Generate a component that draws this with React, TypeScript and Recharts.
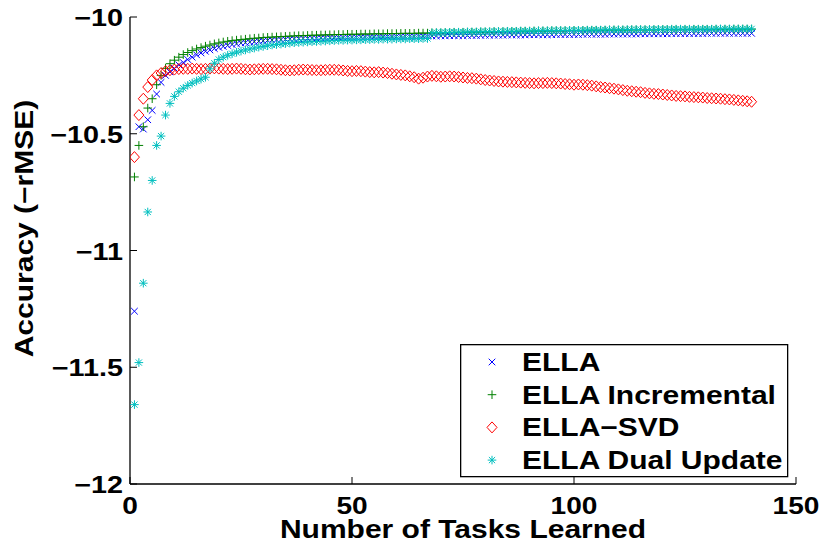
import React from 'react';
import { ScatterChart, Scatter, XAxis, YAxis, Legend } from 'recharts';

const tasks: number[] = Array.from({ length: 140 }, (_, i) => i + 1);

const ellaValues = [
  -11.26, -10.47, -10.48, -10.44, -10.40, -10.33, -10.28, -10.25, -10.235, -10.22,
  -10.205, -10.195, -10.182, -10.172, -10.162, -10.154, -10.147, -10.141, -10.135, -10.13,
  -10.126, -10.122, -10.118, -10.115, -10.112, -10.11, -10.108, -10.106, -10.104, -10.102,
  -10.1, -10.099, -10.098, -10.097, -10.096, -10.095, -10.094, -10.093, -10.092, -10.092,
  -10.091, -10.091, -10.09, -10.09, -10.089, -10.089, -10.088, -10.088, -10.087, -10.087,
  -10.087, -10.086, -10.086, -10.086, -10.085, -10.085, -10.085, -10.084, -10.084, -10.084,
  -10.083, -10.083, -10.083, -10.083, -10.082, -10.082, -10.082, -10.081, -10.081, -10.081,
  -10.081, -10.08, -10.08, -10.08, -10.08, -10.079, -10.079, -10.079, -10.079, -10.078,
  -10.078, -10.078, -10.078, -10.078, -10.077, -10.077, -10.077, -10.077, -10.077, -10.076,
  -10.076, -10.076, -10.076, -10.076, -10.076, -10.075, -10.075, -10.075, -10.075, -10.075,
  -10.075, -10.074, -10.074, -10.074, -10.074, -10.074, -10.074, -10.073, -10.073, -10.073,
  -10.073, -10.073, -10.073, -10.073, -10.072, -10.072, -10.072, -10.072, -10.072, -10.072,
  -10.072, -10.071, -10.071, -10.071, -10.071, -10.071, -10.071, -10.071, -10.071, -10.07,
  -10.07, -10.07, -10.07, -10.07, -10.07, -10.07, -10.07, -10.07, -10.07, -10.07,
];

const incrementalValues = [
  -10.685, -10.55, -10.47, -10.39, -10.35, -10.29, -10.25, -10.22, -10.2, -10.185,
  -10.172, -10.161, -10.152, -10.144, -10.137, -10.131, -10.125, -10.12, -10.115, -10.111,
  -10.107, -10.104, -10.101, -10.099, -10.097, -10.095, -10.093, -10.091, -10.09, -10.088,
  -10.087, -10.086, -10.085, -10.084, -10.083, -10.082, -10.081, -10.08, -10.08, -10.079,
  -10.078, -10.078, -10.077, -10.077, -10.076, -10.076, -10.075, -10.075, -10.074, -10.074,
  -10.074, -10.073, -10.073, -10.073, -10.072, -10.072, -10.072, -10.071, -10.071, -10.071,
  -10.07, -10.07, -10.07, -10.07, -10.069, -10.069, -10.069, -10.068, -10.068, -10.068,
  -10.067, -10.067, -10.066, -10.066, -10.066, -10.065, -10.065, -10.065, -10.064, -10.064,
  -10.064, -10.063, -10.063, -10.063, -10.062, -10.062, -10.062, -10.061, -10.061, -10.061,
  -10.06, -10.06, -10.06, -10.06, -10.059, -10.059, -10.059, -10.059, -10.058, -10.058,
  -10.058, -10.058, -10.057, -10.057, -10.057, -10.057, -10.057, -10.056, -10.056, -10.056,
  -10.056, -10.056, -10.055, -10.055, -10.055, -10.055, -10.055, -10.055, -10.054, -10.054,
  -10.054, -10.054, -10.054, -10.054, -10.054, -10.053, -10.053, -10.053, -10.053, -10.053,
  -10.053, -10.053, -10.053, -10.053, -10.053, -10.052, -10.052, -10.052, -10.052, -10.052,
];

const svdValues = [
  -10.6, -10.42, -10.35, -10.3, -10.27, -10.25, -10.24, -10.232, -10.228, -10.225,
  -10.223, -10.222, -10.222, -10.221, -10.222, -10.223, -10.222, -10.221, -10.22, -10.221,
  -10.222, -10.223, -10.222, -10.221, -10.222, -10.224, -10.225, -10.224, -10.223, -10.222,
  -10.222, -10.223, -10.224, -10.226, -10.228, -10.229, -10.228, -10.226, -10.225, -10.226,
  -10.227, -10.228, -10.228, -10.227, -10.226, -10.226, -10.227, -10.229, -10.231, -10.232,
  -10.231, -10.232, -10.234, -10.236, -10.237, -10.236, -10.238, -10.24, -10.243, -10.246,
  -10.248, -10.25, -10.254, -10.258, -10.264, -10.26, -10.255, -10.252, -10.254, -10.256,
  -10.255, -10.254, -10.255, -10.257, -10.259, -10.261, -10.262, -10.264, -10.267, -10.27,
  -10.272, -10.274, -10.276, -10.277, -10.278, -10.279, -10.28, -10.281, -10.282, -10.283,
  -10.284, -10.283, -10.283, -10.282, -10.283, -10.284, -10.285, -10.287, -10.288, -10.29,
  -10.289, -10.29, -10.292, -10.294, -10.297, -10.3, -10.302, -10.305, -10.307, -10.31,
  -10.313, -10.316, -10.318, -10.32, -10.322, -10.325, -10.327, -10.329, -10.33, -10.332,
  -10.334, -10.336, -10.338, -10.339, -10.34, -10.342, -10.343, -10.344, -10.345, -10.347,
  -10.348, -10.349, -10.35, -10.352, -10.353, -10.355, -10.357, -10.359, -10.361, -10.363,
];

const dualUpdateValues = [
  -11.66, -11.48, -11.14, -10.835, -10.7, -10.55, -10.51, -10.42, -10.37, -10.34,
  -10.32, -10.305, -10.293, -10.283, -10.274, -10.266, -10.258, -10.222, -10.198, -10.182,
  -10.172, -10.164, -10.157, -10.151, -10.146, -10.141, -10.137, -10.133, -10.129, -10.126,
  -10.123, -10.12, -10.118, -10.116, -10.114, -10.112, -10.11, -10.109, -10.108, -10.107,
  -10.106, -10.105, -10.104, -10.103, -10.102, -10.101, -10.1, -10.1, -10.099, -10.099,
  -10.098, -10.098, -10.097, -10.097, -10.096, -10.096, -10.095, -10.095, -10.095, -10.094,
  -10.094, -10.094, -10.093, -10.093, -10.093, -10.092, -10.092, -10.068, -10.067, -10.067,
  -10.066, -10.066, -10.065, -10.065, -10.065, -10.064, -10.064, -10.064, -10.063, -10.063,
  -10.063, -10.062, -10.062, -10.062, -10.061, -10.061, -10.061, -10.06, -10.06, -10.06,
  -10.06, -10.059, -10.059, -10.059, -10.058, -10.058, -10.058, -10.058, -10.057, -10.057,
  -10.057, -10.057, -10.056, -10.056, -10.056, -10.056, -10.055, -10.055, -10.055, -10.055,
  -10.055, -10.054, -10.054, -10.054, -10.054, -10.054, -10.053, -10.053, -10.053, -10.053,
  -10.053, -10.052, -10.052, -10.052, -10.052, -10.052, -10.052, -10.052, -10.052, -10.052,
  -10.052, -10.051, -10.051, -10.051, -10.051, -10.051, -10.051, -10.051, -10.051, -10.051,
];

const xTicks = [0, 50, 100, 150];
const yTicks = [-12, -11.5, -11, -10.5, -10];
const seriesNames = ['ELLA', 'ELLA Incremental', 'ELLA\u2212SVD', 'ELLA Dual Update'];
const xLabel = 'Number of Tasks Learned';
const yLabel = 'Accuracy (\u2212rMSE)';

const COLORS = ['#0000FF', '#008000', '#FF0000', '#00BFBF'];
const KINDS = ['x', 'plus', 'diamond', 'star'];
const FONT = '"Liberation Sans", Arial, Helvetica, sans-serif';
const SX = 1.2;
const FS = 25;
const TICK = 7;

const toPoints = (vals: number[]) => tasks.map((t, i) => ({ x: t, y: vals[i] }));
const seriesData = [ellaValues, incrementalValues, svdValues, dualUpdateValues].map(toPoints);

const fmt = (v: number) => (v < 0 ? '\u2212' + String(Math.abs(v)) : String(v));

function StretchText(props: any) {
  const { x, y, anchor = 'middle', rotate = 0, size = FS, sx = SX, children } = props;
  return (
    <text
      transform={`translate(${x},${y}) rotate(${rotate}) scale(${sx},1)`}
      textAnchor={anchor}
      fontFamily={FONT}
      fontWeight="bold"
      fontSize={size}
      fill="#000"
    >
      {children}
    </text>
  );
}

function Marker({ kind, cx, cy, color }: any) {
  if (cx == null || cy == null) return null;
  const sw = 1;
  if (kind === 'x') {
    const h = 3.3;
    return (
      <g stroke={color} strokeWidth={sw}>
        <line x1={cx - h} y1={cy - h} x2={cx + h} y2={cy + h} />
        <line x1={cx - h} y1={cy + h} x2={cx + h} y2={cy - h} />
      </g>
    );
  }
  if (kind === 'plus') {
    const h = 4.3;
    return (
      <g stroke={color} strokeWidth={sw}>
        <line x1={cx - h} y1={cy} x2={cx + h} y2={cy} />
        <line x1={cx} y1={cy - h} x2={cx} y2={cy + h} />
      </g>
    );
  }
  if (kind === 'diamond') {
    const w = 5, hh = 5.5;
    return (
      <polygon
        points={`${cx},${cy - hh} ${cx + w},${cy} ${cx},${cy + hh} ${cx - w},${cy}`}
        fill="none"
        stroke={color}
        strokeWidth={sw}
      />
    );
  }
  const h = 4.3, d = 3.1;
  return (
    <g stroke={color} strokeWidth={sw}>
      <line x1={cx - h} y1={cy} x2={cx + h} y2={cy} />
      <line x1={cx} y1={cy - h} x2={cx} y2={cy + h} />
      <line x1={cx - d} y1={cy - d} x2={cx + d} y2={cy + d} />
      <line x1={cx - d} y1={cy + d} x2={cx + d} y2={cy - d} />
    </g>
  );
}

const BottomTick = (p: any) => (
  <g>
    <line x1={p.x} y1={p.y} x2={p.x} y2={p.y - TICK} stroke="#000" strokeWidth={1} />
    <StretchText x={p.x} y={p.y + 30} anchor="middle" size={24} sx={1.17}>{fmt(p.payload.value)}</StretchText>
  </g>
);
const TopTick = (p: any) => (
  <line x1={p.x} y1={p.y} x2={p.x} y2={p.y + TICK} stroke="#000" strokeWidth={1} />
);
const LeftTick = (p: any) => (
  <g>
    <line x1={p.x} y1={p.y} x2={p.x + TICK} y2={p.y} stroke="#000" strokeWidth={1} />
    <StretchText x={p.x - 7} y={p.y + 9} anchor="end" size={24} sx={1.2}>{fmt(p.payload.value)}</StretchText>
  </g>
);
const RightTick = (p: any) => (
  <line x1={p.x} y1={p.y} x2={p.x - TICK} y2={p.y} stroke="#000" strokeWidth={1} />
);

const XLabelContent = (p: any) => {
  const vb = p.viewBox;
  return <StretchText x={vb.x + vb.width / 2} y={vb.y + 54} anchor="middle">{xLabel}</StretchText>;
};
const YLabelContent = (p: any) => {
  const vb = p.viewBox;
  return (
    <StretchText x={33} y={vb.y + vb.height / 2 - 22} anchor="middle" rotate={-90}>
      {yLabel}
    </StretchText>
  );
};

const LegendBox = () => (
  <svg width={330} height={135} style={{ display: 'block' }}>
    <rect x={0.65} y={0.65} width={327} height={132} fill="#fff" stroke="#000" strokeWidth={1.3} />
    {seriesNames.map((name, i) => {
      const cy = 18 + i * 32.7;
      return (
        <g key={name}>
          <Marker kind={KINDS[i]} cx={32} cy={cy} color={COLORS[i]} />
          <StretchText x={62} y={cy + 9} anchor="start">{name}</StretchText>
        </g>
      );
    })}
  </svg>
);

export default function App() {
  return (
    <div style={{ position: 'absolute', left: 0, top: 0, width: 823, height: 543, background: '#fff' }}>
      <ScatterChart width={823} height={543} margin={{ top: 17, right: 27, bottom: 19, left: 0 }}>
        <XAxis
          type="number"
          dataKey="x"
          domain={[0, 150]}
          ticks={xTicks}
          interval={0}
          allowDataOverflow
          tickSize={0}
          tickMargin={0}
          tickLine={false}
          height={40}
          axisLine={{ stroke: '#000', strokeWidth: 1.3 }}
          tick={BottomTick}
          label={XLabelContent}
        />
        <XAxis
          xAxisId="top"
          orientation="top"
          type="number"
          dataKey="x"
          domain={[0, 150]}
          ticks={xTicks}
          interval={0}
          allowDataOverflow
          tickSize={0}
          tickMargin={0}
          tickLine={false}
          height={0}
          axisLine={{ stroke: '#000', strokeWidth: 1.3 }}
          tick={TopTick}
        />
        <YAxis
          type="number"
          dataKey="y"
          domain={[-12, -10]}
          ticks={yTicks}
          interval={0}
          allowDataOverflow
          tickSize={0}
          tickMargin={0}
          tickLine={false}
          width={130}
          axisLine={{ stroke: '#000', strokeWidth: 1.3 }}
          tick={LeftTick}
          label={YLabelContent}
        />
        <YAxis
          yAxisId="right"
          orientation="right"
          type="number"
          dataKey="y"
          domain={[-12, -10]}
          ticks={yTicks}
          interval={0}
          allowDataOverflow
          tickSize={0}
          tickMargin={0}
          tickLine={false}
          width={0}
          axisLine={{ stroke: '#000', strokeWidth: 1.3 }}
          tick={RightTick}
        />
        {seriesData.map((data, i) => (
          <Scatter
            key={seriesNames[i]}
            name={seriesNames[i]}
            data={data}
            fill={COLORS[i]}
            isAnimationActive={false}
            shape={(p: any) => <Marker kind={KINDS[i]} cx={p.cx} cy={p.cy} color={COLORS[i]} />}
          />
        ))}
        <Legend
          layout="vertical"
          align="center"
          verticalAlign="middle"
          wrapperStyle={{ position: 'absolute', left: 460, top: 344, width: 330, height: 135, margin: 0, padding: 0 }}
          content={LegendBox}
        />
      </ScatterChart>
    </div>
  );
}
